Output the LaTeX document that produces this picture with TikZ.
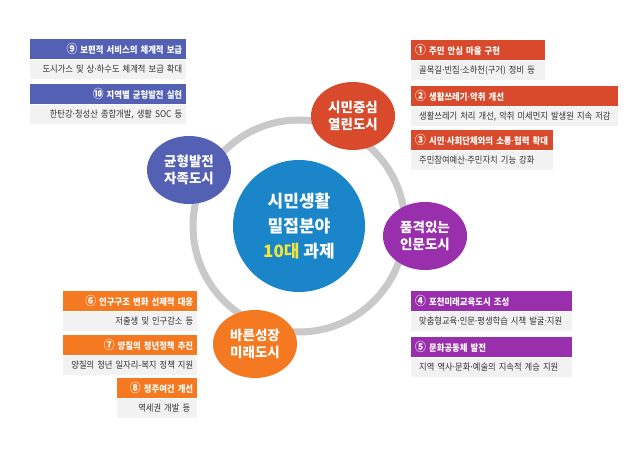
\documentclass[tikz,border=0pt]{standalone}
\usepackage{fontspec}
\setmainfont{Noto Sans CJK KR}
\newfontfamily\narrowfont{Noto Sans CJK KR}[FakeStretch=0.9]
\newfontfamily\dotfont{Noto Sans}
\usetikzlibrary{shapes.geometric}

\definecolor{kblue}{HTML}{5460B4}
\definecolor{kred}{HTML}{D84A2B}
\definecolor{korange}{HTML}{F47920}
\definecolor{kpurple}{HTML}{9A2FAE}
\definecolor{kcore}{HTML}{1A86C9}
\definecolor{kyellow}{HTML}{F2E53B}
\definecolor{kring}{HTML}{C9C9C9}
\definecolor{kpanel}{HTML}{F2F2F2}
\definecolor{ktext}{HTML}{333333}

% narrow middle dot and large circled number
\newcommand\md{{\dotfont ·}}
\newcommand\cnum[1]{{\fontsize{12}{10}\selectfont #1}}

\tikzset{
    head/.style={anchor=north west, minimum height=20pt, inner ysep=0pt, inner xsep=4pt,
        text=white, font=\narrowfont\bfseries\fontsize{9.3}{10}\selectfont},
    panel/.style={anchor=north west, fill=kpanel, minimum height=19pt, inner ysep=0pt,
        text=ktext, font=\narrowfont\fontsize{9.2}{9}\selectfont},
    city/.style={ellipse, minimum width=84pt, minimum height=68pt, inner sep=0pt,
        text=white, align=center, font=\bfseries\fontsize{13.5}{17}\selectfont}
}

\begin{document}
\begin{tikzpicture}[x=1pt, y=-1pt]
        % Page frame
        \fill[white] (0,0) rectangle (640,450);
        \useasboundingbox (0,0) rectangle (640,450);

        % Ring around the core
        \coordinate (mid) at (299,226);
        \draw[kring, line width=7pt] (mid) circle (106pt);

        % Core circle
        \node[circle, fill=kcore, minimum size=132pt, inner sep=0pt, text=white, align=center,
            font=\bfseries\fontsize{17}{25}\selectfont] (core) at (mid)
            {시민생활\\밀접분야\\{\color{kyellow}10대} 과제};

        % Four city circles on the ring
        \node[city, fill=kred] (open) at (353,116) {시민중심\\열린도시};
        \node[city, fill=kblue] (self) at (189,170) {균형발전\\자족도시};
        \node[city, fill=kpurple] (human) at (425,236) {품격있는\\인문도시};
        \node[city, fill=korange] (future) at (255,344) {바른성장\\미래도시};

        % Task boxes on the left, text to the right
        \foreach \n/\xa/\w/\y/\col/\head/\txt in {
            9/30/156/39/kblue/{\cnum{⑨} 보편적 서비스의 체계적 보급}/{도시가스 및 상\md 하수도 체계적 보급 확대},
            10/30/156/84/kblue/{\cnum{⑩} 지역별 균형발전 실현}/{한탄강\md 청성산 종합개발, 생활 SOC 등},
            6/63/134/291/korange/{\cnum{⑥} 인구구조 변화 선제적 대응}/{저출생 및 인구감소 등},
            7/63/134/335/korange/{\cnum{⑦} 양질의 청년정책 추진}/{양질의 청년 일자리-복지 정책 지원},
            8/117/80/378/korange/{\cnum{⑧} 정주여건 개선}/{역세권 개발 등}
        }{
            \pgfmathsetmacro\tw{\w-8}
            \node[head, fill=\col, text width=\tw pt, align=right] (h\n) at (\xa,\y) {\mbox{\head}};
            \node[panel, inner xsep=4pt, text width=\tw pt, align=right] (p\n) at (h\n.south west) {\mbox{\txt}};
        }

        % Task boxes on the right, text to the left
        \foreach \n/\xa/\w/\y/\col/\head/\txt in {
            1/411/134/40/kred/{\cnum{①} 주민 안심 마을 구현}/{골목길\md 빈집\md 소하천(구거) 정비 등},
            2/411/207/86/kred/{\cnum{②} 생활쓰레기\md 악취 개선}/{생활쓰레기 처리 개선, 악취 미세먼지 발생원 지속 저감},
            3/411/142/130/kred/{\cnum{③} 시민\md 사회단체와의 소통\md 협력 확대}/{주민참여예산\md 주민자치 기능 강화},
            4/411/161/291/kpurple/{\cnum{④} 포천미래교육도시 조성}/{맞춤형교육\md 인문\md 평생학습 시책 발굴\md 지원},
            5/411/161/337/kpurple/{\cnum{⑤} 문화공동체 발전}/{지역 역사\md 문화\md 예술의 지속적 계승 지원}
        }{
            \pgfmathsetmacro\tw{\w-8}
            \pgfmathsetmacro\pw{\w-16}
            \node[head, fill=\col, text width=\tw pt, align=left] (h\n) at (\xa,\y) {\mbox{\head}};
            \node[panel, inner xsep=8pt, text width=\pw pt, align=left] (p\n) at (h\n.south west) {\mbox{\txt}};
        }
\end{tikzpicture}
\end{document}
